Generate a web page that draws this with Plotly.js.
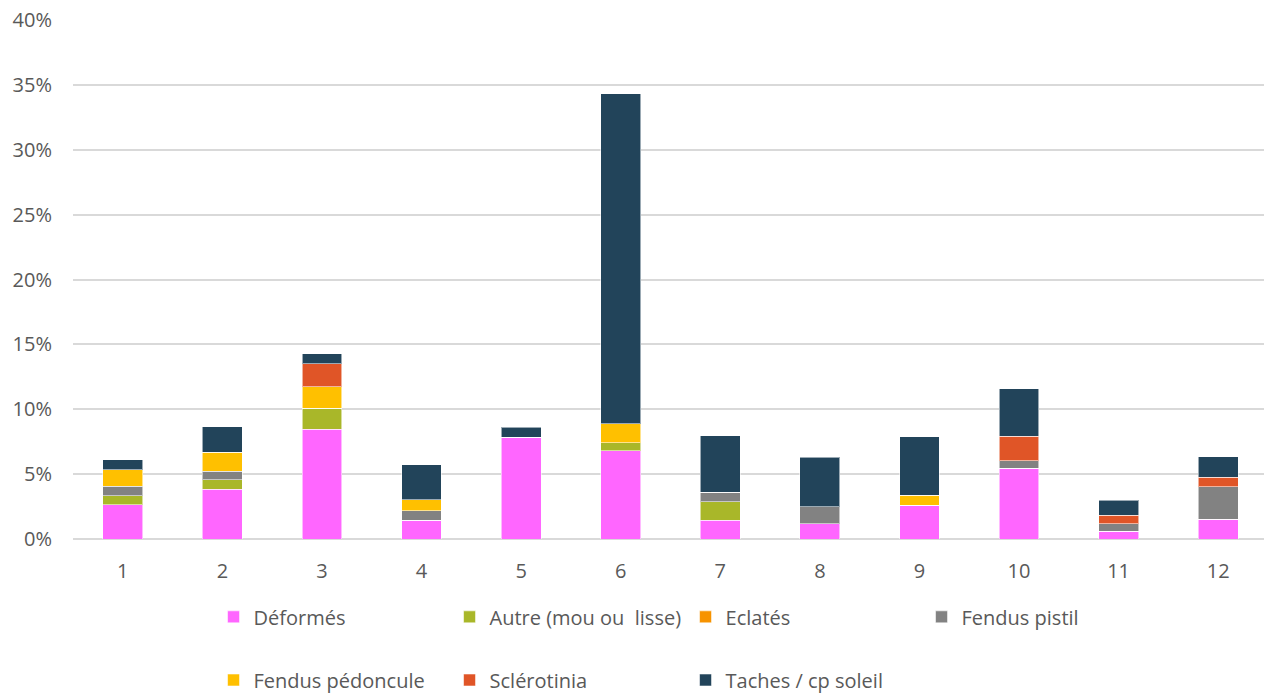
<!DOCTYPE html>
<html>
<head>
<meta charset="utf-8">
<script src="https://cdn.plot.ly/plotly-3.0.1.min.js"></script>
<style>html,body{margin:0;padding:0;background:#fff;}#chart{width:1264px;height:695px;}</style>
</head>
<body>
<div id="chart"></div>
<script>
const categories = ['1','2','3','4','5','6','7','8','9','10','11','12'];
const deformes = [2.65,3.83,8.46,1.44,7.84,6.79,1.44,1.18,2.60,5.45,0.59,1.54];
const autre = [0.69,0.72,1.62,0,0,0.64,1.44,0,0,0,0,0];
const eclates = [0,0,0,0,0,0,0,0,0,0,0,0];
const fendusPistil = [0.72,0.67,0,0.75,0,0,0.74,1.29,0,0.59,0.59,2.49];
const fendusPedoncule = [1.29,1.46,1.64,0.84,0,1.46,0,0,0.77,0,0,0];
const sclerotinia = [0,0,1.80,0,0,0,0,0,0,1.88,0.65,0.72];
const taches = [0.74,1.98,0.75,2.70,0.77,25.41,4.34,3.85,4.52,3.65,1.15,1.59];
const yTickVals = [0,5,10,15,20,25,30,35,40];
const yTickText = ['0%','5%','10%','15%','20%','25%','30%','35%','40%'];

const seriesDefs = [
  {name:'Déformés', y:deformes, color:'#FF66FF', legend:'legend'},
  {name:'Autre (mou ou  lisse)', y:autre, color:'#A9B729', legend:'legend'},
  {name:'Eclatés', y:eclates, color:'#F79300', legend:'legend'},
  {name:'Fendus pistil', y:fendusPistil, color:'#828282', legend:'legend'},
  {name:'Fendus pédoncule', y:fendusPedoncule, color:'#FFC000', legend:'legend2'},
  {name:'Sclérotinia', y:sclerotinia, color:'#E05527', legend:'legend2'},
  {name:'Taches / cp soleil', y:taches, color:'#22445A', legend:'legend2'}
];

const traces = seriesDefs.map(s => ({
  type:'bar', name:s.name, x:categories, y:s.y, legend:s.legend,
  marker:{color:s.color, line:{color:'rgba(255,255,255,0.55)', width:1}},
  hovertemplate:'%{x}: %{y:.2f}%<extra>'+s.name+'</extra>'
}));

const fontFam = '"Open Sans", Lato, sans-serif';
const legendCommon = {
  orientation:'h', xanchor:'left', yanchor:'middle',
  font:{family:fontFam, size:20, color:'#595959'},
  entrywidth:191, entrywidthmode:'pixels', traceorder:'normal',
  bgcolor:'rgba(0,0,0,0)', borderwidth:0
};

const layout = {
  width:1264, height:695,
  margin:{l:73, r:0, t:20, b:156, autoexpand:false},
  paper_bgcolor:'#fff', plot_bgcolor:'#fff',
  barmode:'stack', bargap:0.6,
  font:{family:fontFam, color:'#595959'},
  showlegend:true,
  xaxis:{type:'category', range:[-0.5,11.46], showgrid:false, zeroline:false,
    showline:false, ticks:'', tickfont:{family:fontFam, size:20, color:'#595959'},
    ticklabelstandoff:18, fixedrange:true, automargin:false},
  yaxis:{range:[0,40], tickmode:'array', tickvals:yTickVals, ticktext:yTickText, showgrid:true,
    gridcolor:'#D9D9D9', gridwidth:1.5, zeroline:true, zerolinecolor:'#D9D9D9', zerolinewidth:1.5,
    showline:false, ticks:'', tickfont:{family:fontFam, size:20, color:'#595959'},
    ticklabelstandoff:20, fixedrange:true, automargin:false},
  legend:Object.assign({}, legendCommon, {x:0.1180, y:-0.150}),
  legend2:Object.assign({}, legendCommon, {x:0.1180, y:-0.2717})
};

Plotly.newPlot('chart', traces, layout, {displayModeBar:false, responsive:false});
</script>
</body>
</html>
